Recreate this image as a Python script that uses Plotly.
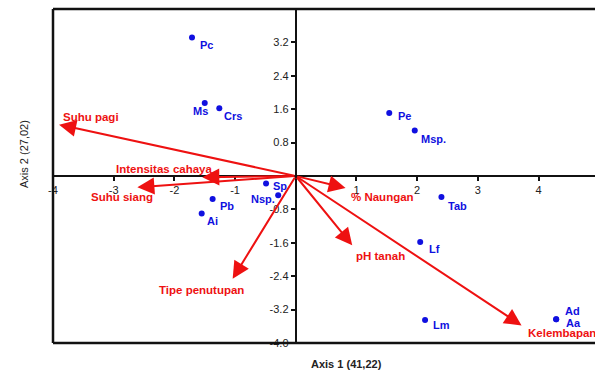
import plotly.graph_objects as go

# ---- data ----
species = ["Pc", "Ms", "Crs", "Sp", "Nsp.", "Pb", "Ai", "Pe", "Msp.", "Tab", "Lf", "Lm", "Ad", "Aa"]
sp_x = [-1.71, -1.50, -1.26, -0.49, -0.29, -1.37, -1.55, 1.54, 1.96, 2.40, 2.05, 2.13, 4.29, 4.29]
sp_y = [3.32, 1.75, 1.62, -0.18, -0.46, -0.55, -0.90, 1.51, 1.09, -0.50, -1.58, -3.45, -3.43, -3.43]

env_vars = ["Suhu pagi", "Intensitas cahaya", "Suhu siang", "Tipe penutupan", "% Naungan", "pH tanah", "Kelembapan"]
env_x = [-3.90, -1.54, -2.61, -1.04, 0.82, 0.93, 3.72]
env_y = [1.23, -0.03, -0.27, -2.46, -0.29, -1.66, -3.58]

x_ticks = [-4, -3, -2, -1, 1, 2, 3, 4]
x_ticktext = ["-4", "-3", "-2", "-1", "1", "2", "3", "4"]
y_ticks = [3.2, 2.4, 1.6, 0.8, -0.8, -1.6, -2.4, -3.2, -4.0]
y_ticktext = ["3.2", "2.4", "1.6", "0.8", "-0.8", "-1.6", "-2.4", "-3.2", "-4.0"]

x_title = "Axis 1 (41,22)"
y_title = "Axis 2 (27,02)"

# ---- styles ----
FONT = "Arial, 'Liberation Sans', sans-serif"
BLUE = "#1010e0"
RED = "#ee1111"
XMIN, XMAX = -4.0, 4.93
YMIN, YMAX = -4.0, 4.0

# label placement (anchor, xshift, yshift) per species
sp_lab = {
    "Pc": ("left", 6, -8), "Ms": ("center", -4, -8), "Crs": ("left", 3, -8),
    "Sp": ("left", 5, -2), "Nsp.": ("right", -1, -4), "Pb": ("left", 5, -7),
    "Ai": ("left", 3, -7), "Pe": ("left", 7, -3), "Msp.": ("left", 4, -9),
    "Tab": ("left", 5, -9), "Lf": ("left", 7, -7), "Lm": ("left", 6, -5),
    "Ad": ("left", 7, 8), "Aa": ("left", 8, -4),
}
env_lab = {
    "Suhu pagi": ("left", 2, 8), "Intensitas cahaya": ("center", -38, 8),
    "Suhu siang": ("center", -15, -10), "Tipe penutupan": ("center", -31, -11),
    "% Naungan": ("left", 3, -9), "pH tanah": ("left", 2, -11),
    "Kelembapan": ("left", 4, -8),
}

fig = go.Figure()
fig.add_trace(go.Scatter(x=sp_x, y=sp_y, mode="markers",
                         marker=dict(color=BLUE, size=6), hoverinfo="text",
                         text=species, showlegend=False))

ann = []
for n, x, y in zip(species, sp_x, sp_y):
    a, dx, dy = sp_lab[n]
    ann.append(dict(x=x, y=y, xref="x", yref="y", text=f"<b>{n}</b>", showarrow=False,
                    xanchor=a, yanchor="middle", xshift=dx, yshift=dy,
                    font=dict(family=FONT, size=11, color=BLUE)))

for n, x, y in zip(env_vars, env_x, env_y):
    ann.append(dict(x=x, y=y, ax=0, ay=0, xref="x", yref="y", axref="x", ayref="y",
                    text="", showarrow=True, arrowhead=2, arrowsize=1.7, arrowwidth=2,
                    arrowcolor=RED, standoff=0, startstandoff=0))
    a, dx, dy = env_lab[n]
    ann.append(dict(x=x, y=y, xref="x", yref="y", text=f"<b>{n}</b>", showarrow=False,
                    xanchor=a, yanchor="middle", xshift=dx, yshift=dy,
                    font=dict(family=FONT, size=11.5, color=RED)))

ann.append(dict(x=346, y=364, xref="paper", yref="paper", text=f"<b>{x_title}</b>",
                xanchor="center", yanchor="middle",
                showarrow=False, font=dict(family=FONT, size=11, color="#222")))
ann.append(dict(x=24, y=154, xref="paper", yref="paper", text=y_title, textangle=-90,
                xanchor="center", yanchor="middle", showarrow=False,
                font=dict(family="'Liberation Sans Narrow', Arial, sans-serif", size=11, color="#222")))

W, H = 595, 371
ML, MR, MT, MB = 53, 0, 9, 28
pw, ph = W - ML - MR, H - MT - MB
for a in ann[-2:]:
    a["x"] = (a["x"] - ML) / pw
    a["y"] = 1 - (a["y"] - MT) / ph

xpos = (0 - XMIN) / (XMAX - XMIN)
ypos = (0 - YMIN) / (YMAX - YMIN)

fig.update_layout(
    width=W, height=H, margin=dict(l=ML, r=MR, t=MT, b=MB, autoexpand=False),
    plot_bgcolor="white", paper_bgcolor="white",
    annotations=ann,
    xaxis=dict(range=[XMIN, XMAX], anchor="free", position=ypos, showline=True, automargin=False,
               linecolor="#111", linewidth=2, ticks="outside", ticklen=4, tickwidth=2,
               tickcolor="#111", tickvals=x_ticks, ticktext=x_ticktext,
               showgrid=False, zeroline=False,
               tickfont=dict(family=FONT, size=11, color="#222"), tickprefix="<b>", ticksuffix="</b>"),
    yaxis=dict(range=[YMIN, YMAX], anchor="free", position=xpos, showline=True, automargin=False,
               linecolor="#111", linewidth=2, ticks="outside", ticklen=4, tickwidth=2,
               tickcolor="#111", tickvals=y_ticks, ticktext=y_ticktext,
               showgrid=False, zeroline=False,
               tickfont=dict(family=FONT, size=11, color="#222"), tickprefix="<b>", ticksuffix="</b>"),
    shapes=[
        dict(type="line", xref="paper", yref="paper", x0=0, x1=1, y0=1, y1=1,
             line=dict(color="#111", width=2.5)),
        dict(type="line", xref="paper", yref="paper", x0=0, x1=1, y0=0, y1=0,
             line=dict(color="#111", width=2.5)),
        dict(type="line", xref="paper", yref="paper", x0=0, x1=0, y0=0, y1=1,
             line=dict(color="#111", width=2.5)),
    ],
)

# remove the browser's default page margin / scrollbars so the figure fills the window
fig.write_html("out.html", config={"displayModeBar": False},
               post_script="document.body.style.margin='0';"
                           "document.documentElement.style.overflow='hidden';")
